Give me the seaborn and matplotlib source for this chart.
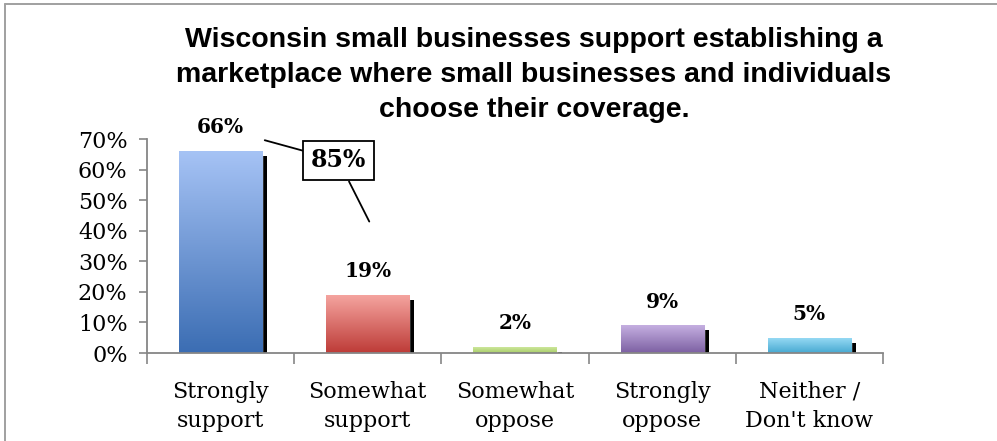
import numpy as np
import matplotlib as mpl
mpl.use("Agg")
import matplotlib.pyplot as plt
import matplotlib.patheffects as pe
from matplotlib.colors import LinearSegmentedColormap
from matplotlib.lines import Line2D
import seaborn as sns

# --- data ---
categories = ["Strongly\nsupport", "Somewhat\nsupport", "Somewhat\noppose",
              "Strongly\noppose", "Neither /\nDon't know"]
values = [66, 19, 2, 9, 5]
labels = ["66%", "19%", "2%", "9%", "5%"]
callout_text = "85%"
title_lines = ["Wisconsin small businesses support establishing a",
               "marketplace where small businesses and individuals",
               "choose their coverage."]
y_ticks = [0, 10, 20, 30, 40, 50, 60, 70]

# gradient (top, bottom) per bar
grad_colors = [("#a6c3f5", "#3b6db3"),
               ("#f6a6a1", "#bd3b37"),
               ("#d2eba2", "#a9cd6a"),
               ("#c5afe1", "#7c60a2"),
               ("#9adcf6", "#47a9d1")]

sns.set_theme(style="white")
plt.rcParams["font.family"] = ["DejaVu Serif"]
plt.rcParams["text.color"] = "black"
plt.rcParams["xtick.color"] = "black"
plt.rcParams["ytick.color"] = "black"

fig = plt.figure(figsize=(9.97, 4.41), dpi=100)
ax = fig.add_axes([147 / 997, 88 / 441, 736 / 997, 214 / 441])

sns.barplot(x=categories, y=values, hue=categories, legend=False,
            palette=[c[0] for c in grad_colors], width=0.565,
            ax=ax, saturation=1)

ax.set_xlim(-0.5, 4.5)
ax.set_ylim(0, 70)

# gradient fill + drop shadow for each bar
grad = np.linspace(0, 1, 256).reshape(-1, 1)
for patch, (top, bot) in zip(ax.patches, grad_colors):
    patch.set_path_effects([
        pe.SimplePatchShadow(offset=(3.6, -3.6), shadow_rgbFace="black", alpha=1.0),
        pe.Normal()])
    x0, y0 = patch.get_x(), patch.get_y()
    w, h = patch.get_width(), patch.get_height()
    cmap = LinearSegmentedColormap.from_list("g", [top, bot])
    im = ax.imshow(grad, cmap=cmap, aspect="auto",
                   extent=[x0, x0 + w, y0, y0 + h], origin="upper", zorder=patch.get_zorder() + 0.1)
    im.set_clip_path(patch)

ax.set_xlim(-0.5, 4.5)
ax.set_ylim(0, 70)

# data labels
for i, (v, lab) in enumerate(zip(values, labels)):
    ax.annotate(lab, (i, v), xytext=(0, 10), textcoords="offset points",
                ha="center", va="bottom", fontsize=14.5, fontweight="bold",
                family="DejaVu Serif", color="black")

# callout for total support
ax.annotate(callout_text, xy=(0.30, 69.6), xytext=(0.80, 63),
            ha="center", va="center", fontsize=17, fontweight="bold",
            bbox=dict(boxstyle="square,pad=0.32", fc="white", ec="black", lw=1.3),
            arrowprops=dict(arrowstyle="-", color="black", lw=1.3, shrinkA=0, shrinkB=0),
            annotation_clip=False, zorder=5)
ax.annotate("", xy=(1.01, 43), xytext=(0.80, 63),
            arrowprops=dict(arrowstyle="-", color="black", lw=1.3,
                            shrinkA=17, shrinkB=0),
            annotation_clip=False, zorder=4)

# axes styling
spine_col = "#868686"
for s in ["top", "right"]:
    ax.spines[s].set_visible(False)
for s in ["left", "bottom"]:
    ax.spines[s].set_color(spine_col)
    ax.spines[s].set_linewidth(1.3)

ax.set_yticks(y_ticks)
ax.set_yticklabels([f"{t}%" for t in y_ticks], fontsize=16, color="black")
ax.tick_params(axis="y", direction="out", length=6, width=1.2, color=spine_col,
               pad=8, left=True)

ax.set_xticks(range(len(categories)))
ax.set_xticklabels(categories, fontsize=16, linespacing=1.45, color="black")
ax.set_xticks(np.arange(-0.5, len(categories)), minor=True)
ax.tick_params(axis="x", which="major", length=0, pad=20)
ax.tick_params(axis="x", which="minor", direction="out", length=8, width=1.2,
               color=spine_col, bottom=True)
ax.set_xlabel("")
ax.set_ylabel("")

# title, one text per line
for k, line in enumerate(title_lines):
    fig.text(534 / 997, 1 - (47 + 35 * k) / 441, line, ha="center", va="baseline",
             fontsize=20.5, fontweight="bold", family="Liberation Sans", color="black")

# outer frame (top and left edge)
fig.add_artist(Line2D([5 / 997, 1], [1 - 4 / 441, 1 - 4 / 441],
                      transform=fig.transFigure, color="#a0a0a0", lw=1.4))
fig.add_artist(Line2D([5 / 997, 5 / 997], [0, 1 - 4 / 441],
                      transform=fig.transFigure, color="#a0a0a0", lw=1.4))

fig.savefig("out.png", dpi=100)
